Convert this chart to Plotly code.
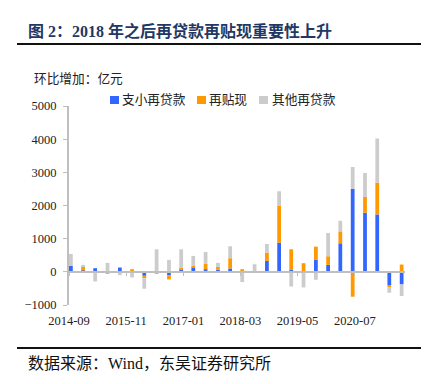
import plotly.graph_objects as go

# ---- data (亿元, quarterly change) ----
quarters = ["2014-09", "2014-12", "2015-03", "2015-06", "2015-09", "2015-12",
            "2016-03", "2016-06", "2016-09", "2016-12", "2017-03", "2017-06",
            "2017-09", "2017-12", "2018-03", "2018-06", "2018-09", "2018-12",
            "2019-03", "2019-06", "2019-09", "2019-12", "2020-03", "2020-06",
            "2020-09", "2020-12", "2021-03", "2021-06"]
zhixiao = [180, 40, 110, 0, 130, 0, -120, 0, -110, 80, 130, 80,
           60, 100, 0, 20, 330, 880, 70, 0, 360, 210, 860, 2500,
           1780, 1730, -400, -380]
tiexian = [0, 120, -30, -60, 0, 80, -70, -60, -120, 50, 60, 160,
           90, 310, 80, 0, 250, 1120, 610, 260, 400, 260, 360, -750,
           480, 960, -60, 220]
qita = [360, 50, -260, 270, -100, -170, -320, 680, 360, 550, 290, 360,
        120, 360, -310, 210, 260, 430, -440, -470, -240, 700, 320, 660,
        720, 1330, -170, -350]
series_names = ["支小再贷款", "再贴现", "其他再贷款"]
series_colors = ["#3366FF", "#FF9900", "#CCCCCC"]
tick_labels = ["2014-09", "2015-11", "2017-01", "2018-03", "2019-05", "2020-07"]
y_ticks = [-1000, 0, 1000, 2000, 3000, 4000, 5000]

FONT = "'Liberation Serif', 'Noto Sans CJK SC'"
AXIS_GRAY = "#BFBFBF"

# figure geometry (pixels)
FW, FH = 432, 384
L, R, T, B = 69, 405, 106, 305
W, H = R - L, B - T


def px(x):
    return (x - L) / W


def py(y):
    return (B - y) / H


x_dates = [q + "-15" for q in quarters]
DAY_MS = 86400000

fig = go.Figure()
for name, vals, col in zip(series_names, [zhixiao, tiexian, qita], series_colors):
    fig.add_trace(go.Bar(x=x_dates, y=vals, name=name, marker_color=col,
                         marker_line_width=0, width=28 * DAY_MS,
                         showlegend=False))
# empty helper trace so the label axis (x2) is drawn
fig.add_trace(go.Scatter(x=[], y=[], xaxis="x2", yaxis="y",
                         showlegend=False, hoverinfo="skip"))

ymin, ymax = -1000, 5000
zero_pos = (0 - ymin) / (ymax - ymin)
x_range = ["2014-09-01", "2021-07-10"]
tickvals = [t + "-01" for t in tick_labels]

fig.update_layout(
    width=FW, height=FH,
    margin=dict(l=L, r=FW - R, t=T, b=FH - B, pad=0),
    paper_bgcolor="white", plot_bgcolor="white",
    barmode="relative",
    font=dict(family=FONT, size=13, color="#222222"),
    xaxis=dict(type="date", range=x_range, anchor="free", position=zero_pos,
               showline=True, linecolor=AXIS_GRAY, linewidth=2,
               ticks="outside", ticklen=3, tickwidth=1, tickcolor=AXIS_GRAY,
               tickvals=tickvals, showticklabels=False, showgrid=False,
               zeroline=False),
    xaxis2=dict(type="date", range=x_range, overlaying="x", matches="x",
                anchor="y", side="bottom", showline=False, ticks="",
                tickvals=tickvals, ticktext=tick_labels, showgrid=False,
                zeroline=False, ticklabelstandoff=6,
                tickfont=dict(family=FONT, size=12.5, color="#222222")),
    yaxis=dict(range=[ymin, ymax], tickvals=y_ticks, showline=True,
               linecolor=AXIS_GRAY, linewidth=2, ticks="outside", ticklen=4,
               tickwidth=1, tickcolor=AXIS_GRAY, showgrid=False,
               zeroline=False, ticklabelstandoff=4,
               tickfont=dict(family=FONT, size=12.5, color="#222222")),
)

shapes = []
annotations = []
# header / footer rules
for yy in (44, 348):
    shapes.append(dict(type="line", xref="paper", yref="paper",
                       x0=px(17), x1=px(421), y0=py(yy), y1=py(yy),
                       line=dict(color="#111111", width=2)))
annotations.append(dict(text="图 2：2018 年之后再贷款再贴现重要性上升",
                        xref="paper", yref="paper", x=px(26), y=py(31),
                        xanchor="left", yanchor="middle", showarrow=False,
                        font=dict(family=FONT, size=16, color="#1F3864",
                                  weight="bold")))
annotations.append(dict(text="数据来源：Wind，东吴证券研究所",
                        xref="paper", yref="paper", x=px(26), y=py(363),
                        xanchor="left", yanchor="middle", showarrow=False,
                        font=dict(family=FONT, size=16, color="#111111")))
annotations.append(dict(text="环比增加：亿元",
                        xref="paper", yref="paper", x=px(32), y=py(79),
                        xanchor="left", yanchor="middle", showarrow=False,
                        font=dict(family=FONT, size=12.7, color="#222222")))
# legend
leg_sq_x = [110, 197, 259]
leg_tx_x = [120, 207, 270]
for sx, tx, name, col in zip(leg_sq_x, leg_tx_x, series_names, series_colors):
    shapes.append(dict(type="rect", xref="paper", yref="paper",
                       x0=px(sx), x1=px(sx + 9), y0=py(104), y1=py(96),
                       fillcolor=col, line=dict(width=0)))
    annotations.append(dict(text=name, xref="paper", yref="paper",
                            x=px(tx), y=py(100), xanchor="left",
                            yanchor="middle", showarrow=False,
                            font=dict(family=FONT, size=12.7, color="#222222")))

fig.update_layout(shapes=shapes, annotations=annotations)
fig.write_html("out.html",
               config={"displayModeBar": False},
               post_script="document.body.style.margin='0';"
                           "document.body.style.overflow='hidden';")
